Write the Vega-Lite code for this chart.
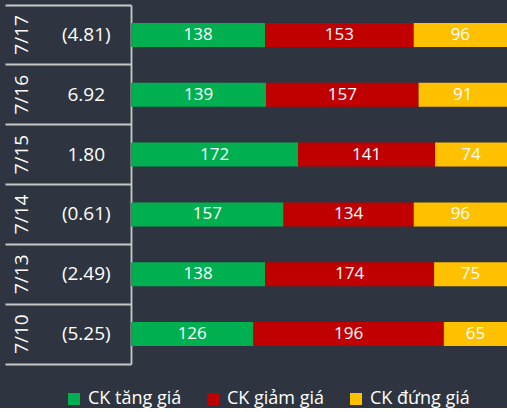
{
  "$schema": "https://vega.github.io/schema/vega-lite/v6.json",
  "background": "#2E3540",
  "padding": {"left": 5, "top": 5, "right": 0, "bottom": 0},
  "config": {"view": {"stroke": null}, "font": "Open Sans"},
  "datasets": {
    "table": [
      {"date": "7/17", "val": "(4.81)"},
      {"date": "7/16", "val": "6.92"},
      {"date": "7/15", "val": "1.80"},
      {"date": "7/14", "val": "(0.61)"},
      {"date": "7/13", "val": "(2.49)"},
      {"date": "7/10", "val": "(5.25)"}
    ],
    "bars": [
      {"date": "7/17", "type": "CK tăng giá", "n": 138, "o": 1},
      {"date": "7/17", "type": "CK giảm giá", "n": 153, "o": 2},
      {"date": "7/17", "type": "CK đứng giá", "n": 96, "o": 3},
      {"date": "7/16", "type": "CK tăng giá", "n": 139, "o": 1},
      {"date": "7/16", "type": "CK giảm giá", "n": 157, "o": 2},
      {"date": "7/16", "type": "CK đứng giá", "n": 91, "o": 3},
      {"date": "7/15", "type": "CK tăng giá", "n": 172, "o": 1},
      {"date": "7/15", "type": "CK giảm giá", "n": 141, "o": 2},
      {"date": "7/15", "type": "CK đứng giá", "n": 74, "o": 3},
      {"date": "7/14", "type": "CK tăng giá", "n": 157, "o": 1},
      {"date": "7/14", "type": "CK giảm giá", "n": 134, "o": 2},
      {"date": "7/14", "type": "CK đứng giá", "n": 96, "o": 3},
      {"date": "7/13", "type": "CK tăng giá", "n": 138, "o": 1},
      {"date": "7/13", "type": "CK giảm giá", "n": 174, "o": 2},
      {"date": "7/13", "type": "CK đứng giá", "n": 75, "o": 3},
      {"date": "7/10", "type": "CK tăng giá", "n": 126, "o": 1},
      {"date": "7/10", "type": "CK giảm giá", "n": 196, "o": 2},
      {"date": "7/10", "type": "CK đứng giá", "n": 65, "o": 3}
    ]
  },
  "spacing": 0,
  "hconcat": [
    {
      "width": 126,
      "height": 359,
      "data": {"name": "table"},
      "encoding": {
        "y": {
          "field": "date",
          "type": "nominal",
          "sort": ["7/17", "7/16", "7/15", "7/14", "7/13", "7/10"],
          "scale": {"type": "band", "paddingInner": 0, "paddingOuter": 0},
          "axis": {
            "orient": "right",
            "grid": true,
            "gridColor": "#C8C8C8",
            "gridWidth": 1.8,
            "bandPosition": 0,
            "labels": false,
            "ticks": false,
            "domain": true,
            "domainColor": "#C8C8C8",
            "domainWidth": 1.8,
            "title": null
          }
        }
      },
      "layer": [
        {
          "mark": {"type": "text", "angle": 270, "fontSize": 19, "color": "#FFFFFF", "align": "center", "baseline": "middle"},
          "encoding": {
            "x": {
              "datum": "d",
              "type": "nominal",
              "bandPosition": 0.27,
              "scale": {"type": "band", "domain": ["d", "v"], "paddingInner": 0, "paddingOuter": 0},
              "axis": {
                "orient": "bottom",
                "labels": false,
                "ticks": false,
                "grid": false,
                "title": null,
                "domain": true,
                "domainColor": "#C8C8C8",
                "domainWidth": 1.8
              }
            },
            "text": {"field": "date"}
          }
        },
        {
          "mark": {"type": "text", "fontSize": 19, "color": "#FFFFFF", "align": "center", "baseline": "middle"},
          "encoding": {
            "x": {"datum": "v", "type": "nominal", "bandPosition": 0.29},
            "text": {"field": "val"}
          }
        }
      ]
    },
    {
      "width": 376,
      "height": 359,
      "data": {"name": "bars"},
      "transform": [
        {"stack": "n", "groupby": ["date"], "sort": [{"field": "o"}], "as": ["x0", "x1"]},
        {"calculate": "(datum.x0 + datum.x1) / 2", "as": "xm"}
      ],
      "encoding": {
        "y": {
          "field": "date",
          "type": "nominal",
          "sort": ["7/17", "7/16", "7/15", "7/14", "7/13", "7/10"],
          "scale": {"type": "band", "paddingInner": 0.6, "paddingOuter": 0.3},
          "axis": null
        }
      },
      "layer": [
        {
          "mark": {"type": "bar"},
          "encoding": {
            "x": {"field": "x0", "type": "quantitative", "scale": {"domain": [0, 387], "nice": false, "zero": true}, "axis": null},
            "x2": {"field": "x1"},
            "color": {
              "field": "type",
              "type": "nominal",
              "scale": {"domain": ["CK tăng giá", "CK giảm giá", "CK đứng giá"], "range": ["#00B050", "#C00000", "#FFC000"]},
              "legend": {
                "orient": "none",
                "legendX": 60,
                "legendY": 385,
                "direction": "horizontal",
                "title": null,
                "labelColor": "#FFFFFF",
                "labelFont": "Open Sans",
                "labelFontSize": 18,
                "labelOffset": 5,
                "symbolType": "square",
                "symbolSize": 144,
                "symbolStrokeWidth": 0,
                "columnPadding": 22
              }
            }
          }
        },
        {
          "mark": {"type": "text", "fontSize": 17, "color": "#FFFFFF", "align": "center", "baseline": "middle"},
          "encoding": {
            "x": {"field": "xm", "type": "quantitative"},
            "text": {"field": "n"}
          }
        }
      ]
    }
  ]
}
